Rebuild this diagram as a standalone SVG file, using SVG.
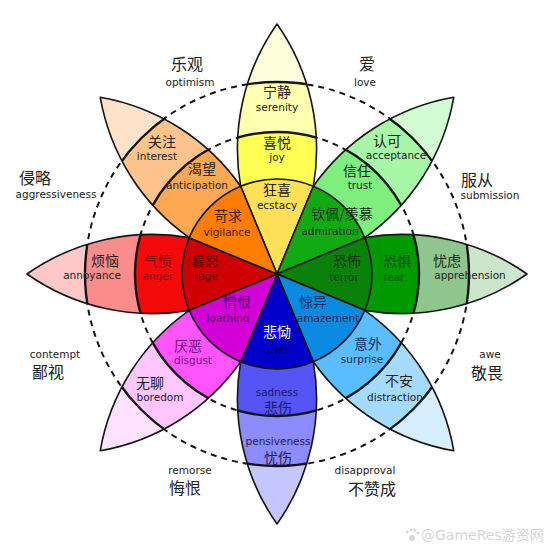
<svg xmlns="http://www.w3.org/2000/svg" width="554" height="554" viewBox="0 0 554 554">
<style>
.ln{fill:none;stroke:#151515;stroke-width:1.6;stroke-linejoin:round}
.pl{stroke:#151515;stroke-width:1.6;stroke-linejoin:round}
.cl{fill:none;stroke:#151515;stroke-width:2.4}
.dash{fill:none;stroke:#151515;stroke-width:2;stroke-dasharray:6 5}
.zh{font-family:"Noto Sans CJK SC","Noto Sans",sans-serif;font-size:14px;text-anchor:middle;fill:#222}
.en{font-family:"DejaVu Sans","Noto Sans",sans-serif;font-size:10.5px;text-anchor:middle;fill:#222}
.zo{font-family:"Noto Sans CJK SC","Noto Sans",sans-serif;font-size:16px;text-anchor:middle;fill:#222}
.wm{font-family:"DejaVu Sans","Noto Sans CJK SC",sans-serif;font-size:14px;fill:#d6d6d6}
</style>
<defs>
<clipPath id="lens" clipPathUnits="userSpaceOnUse"><path d="M0,0 A217.2,217.2 0 0 1 0,-250 A217.2,217.2 0 0 1 0,0 Z"/></clipPath>
<path id="b3" fill-rule="evenodd" d="M260,0 A260,260 0 1 1 -260,0 A260,260 0 1 1 260,0 Z M192,0 A192,192 0 1 1 -192,0 A192,192 0 1 1 192,0 Z"/>
<path id="b2" fill-rule="evenodd" d="M192,0 A192,192 0 1 1 -192,0 A192,192 0 1 1 192,0 Z M142,0 A142,142 0 1 1 -142,0 A142,142 0 1 1 142,0 Z"/>
<path id="b1" fill-rule="evenodd" d="M142,0 A142,142 0 1 1 -142,0 A142,142 0 1 1 142,0 Z M95,0 A95,95 0 1 1 -95,0 A95,95 0 1 1 95,0 Z"/>
<g id="arcs"><circle r="142" class="cl"/><circle r="192" class="cl"/></g>
<path id="edge" class="ln" d="M-36.36,-87.77 A217.2,217.2 0 0 1 0,-250 A217.2,217.2 0 0 1 36.36,-87.77"/>
<path id="pie" class="pl" d="M0,0 L-36.36,-87.77 A95,95 0 0 1 36.36,-87.77 Z"/>
</defs>
<rect width="554" height="554" fill="#fff"/>
<g id="connectors">
<circle cx="277" cy="274" r="142" class="dash"/>
<circle cx="277" cy="274" r="192" class="dash"/>
</g>

<g id="joy">
<g transform="translate(277 274)">
<g clip-path="url(#lens)"><use href="#b3" fill="#FFFFDC"/><use href="#b2" fill="#FFFFB1"/><use href="#b1" fill="#FFFF54"/><use href="#arcs"/></g>
<use href="#edge"/><use href="#pie" fill="#FFE158"/>
</g>
<text class="zh" x="277" y="97">宁静</text><text class="en" x="277" y="111">serenity</text>
<text class="zh" x="277" y="148">喜悦</text><text class="en" x="277" y="161">joy</text>
<text class="zh" x="277" y="195">狂喜</text><text class="en" x="277" y="209">ecstacy</text>
</g>

<g id="trust">
<g transform="translate(277 274) rotate(45)">
<g clip-path="url(#lens)"><use href="#b3" fill="#D2FCD2"/><use href="#b2" fill="#A6F7A6"/><use href="#b1" fill="#7EEE7E"/><use href="#arcs"/></g>
<use href="#edge"/><use href="#pie" fill="#12AA12"/>
</g>
<text class="zh" x="387" y="146">认可</text><text class="en" x="396" y="159">acceptance</text>
<text class="zh" x="357" y="176">信任</text><text class="en" x="360" y="189">trust</text>
<text class="zh" x="342" y="219" style="fill:#142614">钦佩/羡慕</text><text class="en" x="330" y="235" style="fill:#142614">admiration</text>
</g>

<g id="fear">
<g transform="translate(277 274) rotate(90)">
<g clip-path="url(#lens)"><use href="#b3" fill="#CCE6CC"/><use href="#b2" fill="#8EC68E"/><use href="#b1" fill="#009A00"/><use href="#arcs"/></g>
<use href="#edge"/><use href="#pie" fill="#0A820A"/>
</g>
<text class="zh" x="347" y="266" style="fill:#063806">恐怖</text><text class="en" x="344" y="281" style="fill:#063806">terror</text>
<text class="zh" x="397" y="266" style="fill:#064a06">恐惧</text><text class="en" x="394" y="281" style="fill:#064a06">fear</text>
<text class="zh" x="447" y="266">忧虑</text><text class="en" x="470" y="279">apprehension</text>
</g>

<g id="surprise">
<g transform="translate(277 274) rotate(135)">
<g clip-path="url(#lens)"><use href="#b3" fill="#D6EEFF"/><use href="#b2" fill="#A5DBFF"/><use href="#b1" fill="#59BDFF"/><use href="#arcs"/></g>
<use href="#edge"/><use href="#pie" fill="#0A8AE0"/>
</g>
<text class="zh" x="313" y="307" style="fill:#0a2a55">惊异</text><text class="en" x="328" y="322" style="fill:#0a2a55">amazement</text>
<text class="zh" x="368" y="349" style="fill:#12305a">意外</text><text class="en" x="362" y="363" style="fill:#12305a">surprise</text>
<text class="zh" x="399" y="386">不安</text><text class="en" x="395" y="401">distraction</text>
</g>

<g id="sadness">
<g transform="translate(277 274) rotate(180)">
<g clip-path="url(#lens)"><use href="#b3" fill="#C6C6FF"/><use href="#b2" fill="#8C8CFF"/><use href="#b1" fill="#5555F5"/><use href="#arcs"/></g>
<use href="#edge"/><use href="#pie" fill="#0000C8"/>
</g>
<text class="zh" x="277" y="337" style="fill:#fff">悲恸</text><text class="en" x="276" y="354" style="fill:#00006a">grief</text>
<text class="en" x="277" y="396" style="fill:#1c1c66">sadness</text><text class="zh" x="278" y="413" style="fill:#1c1c66">悲伤</text>
<text class="en" x="278" y="445" style="fill:#22224a">pensiveness</text><text class="zh" x="278" y="463" style="fill:#22224a">忧伤</text>
</g>

<g id="disgust">
<g transform="translate(277 274) rotate(225)">
<g clip-path="url(#lens)"><use href="#b3" fill="#FFE2FF"/><use href="#b2" fill="#FFC6FF"/><use href="#b1" fill="#FF54FF"/><use href="#arcs"/></g>
<use href="#edge"/><use href="#pie" fill="#D400D8"/>
</g>
<text class="zh" x="237" y="307" style="fill:#5a005a">憎恨</text><text class="en" x="228" y="322" style="fill:#5a005a">loathing</text>
<text class="zh" x="188" y="351" style="fill:#7a0a85">厌恶</text><text class="en" x="193" y="364" style="fill:#7a0a85">disgust</text>
<text class="zh" x="150" y="388">无聊</text><text class="en" x="160" y="401">boredom</text>
</g>

<g id="anger">
<g transform="translate(277 274) rotate(270)">
<g clip-path="url(#lens)"><use href="#b3" fill="#FFC8C8"/><use href="#b2" fill="#FA8C8C"/><use href="#b1" fill="#F50A0A"/><use href="#arcs"/></g>
<use href="#edge"/><use href="#pie" fill="#D00000"/>
</g>
<text class="zh" x="205" y="266" style="fill:#650000">暴怒</text><text class="en" x="206" y="280" style="fill:#650000">rage</text>
<text class="zh" x="158" y="266" style="fill:#850000">气愤</text><text class="en" x="158" y="280" style="fill:#850000">anger</text>
<text class="zh" x="105" y="266">烦恼</text><text class="en" x="92" y="279">annoyance</text>
</g>

<g id="anticipation">
<g transform="translate(277 274) rotate(315)">
<g clip-path="url(#lens)"><use href="#b3" fill="#FFE2C8"/><use href="#b2" fill="#FFC48C"/><use href="#b1" fill="#FFA854"/><use href="#arcs"/></g>
<use href="#edge"/><use href="#pie" fill="#FF7D00"/>
</g>
<text class="zh" x="162" y="147">关注</text><text class="en" x="157" y="160">interest</text>
<text class="zh" x="202" y="174">渴望</text><text class="en" x="197" y="189">anticipation</text>
<text class="zh" x="228" y="221" style="fill:#3a2000">苛求</text><text class="en" x="227" y="236" style="fill:#3a2000">vigilance</text>
</g>

<g id="optimism"><text class="zo" x="187" y="70">乐观</text><text class="en" x="190" y="86">optimism</text></g>
<g id="love"><text class="zo" x="367" y="70">爱</text><text class="en" x="365" y="86">love</text></g>
<g id="submission"><text class="zo" x="477" y="186">服从</text><text class="en" x="490" y="199">submission</text></g>
<g id="awe"><text class="en" x="490" y="358">awe</text><text class="zo" x="487" y="379">敬畏</text></g>
<g id="disapproval"><text class="en" x="365" y="474">disapproval</text><text class="zo" x="372" y="495">不赞成</text></g>
<g id="remorse"><text class="en" x="190" y="474">remorse</text><text class="zo" x="185" y="494">悔恨</text></g>
<g id="contempt"><text class="en" x="55" y="358">contempt</text><text class="zo" x="48" y="378">鄙视</text></g>
<g id="aggressiveness"><text class="zo" x="35" y="184">侵略</text><text class="en" x="56" y="198">aggressiveness</text></g>

<g id="watermark">
<g fill="#d8d8d8"><circle cx="412" cy="538" r="3"/><circle cx="407" cy="532" r="1.6"/><circle cx="411" cy="530" r="1.6"/><circle cx="415" cy="530" r="1.6"/><circle cx="418" cy="533" r="1.6"/></g>
<text class="wm" x="421" y="540">@GameRes游资网</text>
</g>
</svg>
